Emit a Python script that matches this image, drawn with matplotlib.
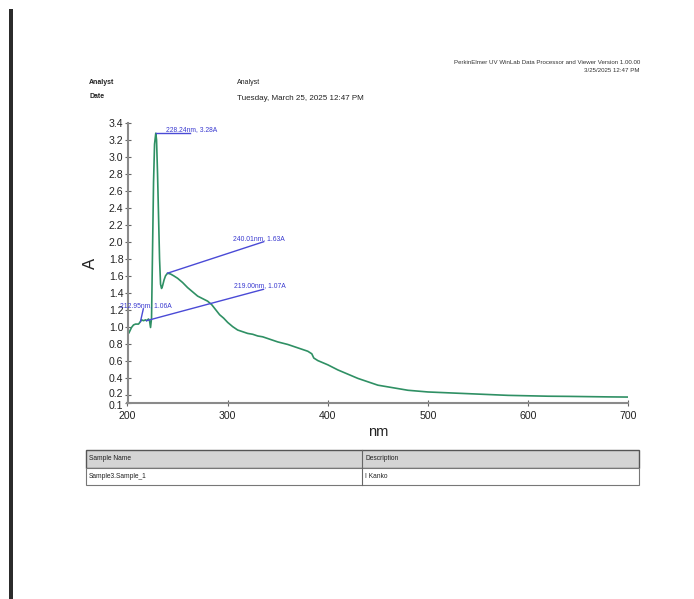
import matplotlib
matplotlib.use("Agg")
import matplotlib.pyplot as plt
from matplotlib.patches import Rectangle
from matplotlib.lines import Line2D
from matplotlib.transforms import ScaledTranslation

plt.rcParams['font.family'] = ['Liberation Sans', 'DejaVu Sans']

# ---- data ----
wavelength_nm = [200, 201, 202, 204, 206, 208, 211, 212.95, 214, 216, 218, 219, 221, 222, 223,
                 224, 225, 226, 227, 228.24, 229, 230, 231, 232, 233, 234, 235, 236.5, 238, 240.01,
                 243, 246, 250, 255, 260, 265, 270, 275, 280, 284, 288, 292, 296, 300, 305, 310,
                 315, 320, 325, 330, 335, 340, 350, 360, 370, 380, 384, 386, 390, 400, 410, 420,
                 430, 440, 450, 460, 470, 480, 500, 520, 540, 560, 580, 600, 620, 640, 660, 680, 700]
absorbance = [1.03, 0.92, 0.94, 0.99, 1.02, 1.03, 1.03, 1.06, 1.08, 1.07, 1.08, 1.07, 1.09, 1.07, 0.99,
              1.10, 1.90, 2.70, 3.15, 3.28, 3.20, 2.80, 2.30, 1.80, 1.50, 1.45, 1.48, 1.55, 1.60, 1.63,
              1.62, 1.60, 1.57, 1.52, 1.46, 1.41, 1.36, 1.33, 1.30, 1.26, 1.20, 1.14, 1.10, 1.05, 1.00, 0.96,
              0.94, 0.92, 0.91, 0.89, 0.88, 0.86, 0.82, 0.79, 0.75, 0.71, 0.68, 0.63, 0.60, 0.55, 0.49, 0.44,
              0.39, 0.35, 0.31, 0.29, 0.27, 0.25, 0.23, 0.22, 0.21, 0.20, 0.19, 0.185, 0.18, 0.178, 0.175, 0.172, 0.17]

peak_labels = ["228.24nm, 3.28A", "240.01nm, 1.63A", "219.00nm, 1.07A", "212.95nm, 1.06A"]
peak_x = [228.24, 240.01, 219.00, 212.95]
peak_y = [3.28, 1.63, 1.07, 1.06]
label_x = [238.5, 305.5, 306.5, 192.5]
label_y = [3.28, 2.00, 1.44, 1.21]
line_end_x = [262.5, 335.8, 335.8, 215.8]
line_end_y = [3.28, 2.00, 1.44, 1.21]

x_ticks = [200, 300, 400, 500, 600, 700]
y_ticks = [0.1, 0.2, 0.4, 0.6, 0.8, 1.0, 1.2, 1.4, 1.6, 1.8, 2.0, 2.2, 2.4, 2.6, 2.8, 3.0, 3.2, 3.4]

W, H = 694, 599
fig = plt.figure(figsize=(W / 100, H / 100), dpi=100)
fig.patch.set_facecolor('white')

def fx(px):
    return px / W

def fy(py):
    return 1 - py / H

# left dark bar
fig.add_artist(Rectangle((fx(9), 0), fx(3.5), fy(9), transform=fig.transFigure,
                         facecolor='#2b2b2b', edgecolor='none'))

# header texts
hdr = dict(fontsize=5.0, color='#222222')
fig.text(fx(640), fy(63), "PerkinElmer UV WinLab Data Processor and Viewer Version 1.00.00",
         ha='right', va='center', fontsize=4.4, color='#333333')
fig.text(fx(640), fy(70), "3/25/2025 12:47 PM", ha='right', va='center', fontsize=4.4, color='#333333')
fig.text(fx(89), fy(83), "Analyst", ha='left', va='center', fontweight='bold', **hdr)
fig.text(fx(89), fy(97), "Date", ha='left', va='center', fontweight='bold', **hdr)
fig.text(fx(237), fy(83), "Analyst", ha='left', va='center', **hdr)
fig.text(fx(237), fy(98), "Tuesday, March 25, 2025 12:47 PM", ha='left', va='center',
         fontsize=5.8, color='#222222')

# axes
ax_left, ax_right = 127.5, 628.3
ax_top, ax_bottom = 123, 403
ax = fig.add_axes([fx(ax_left), fy(ax_bottom), (ax_right - ax_left) / W, (ax_bottom - ax_top) / H])
ax.plot(wavelength_nm, absorbance, color='#2f9064', lw=1.2)
ax.set_xlim(200, 700)
ax.set_ylim(0.1, 3.4)
ax.set_xticks(x_ticks)
ax.set_yticks(y_ticks)
ax.set_xticklabels([str(t) for t in x_ticks])
ax.set_yticklabels([f"{t:.1f}" for t in y_ticks])
for s in ['top', 'right']:
    ax.spines[s].set_visible(False)
for s in ['left', 'bottom']:
    ax.spines[s].set_color('#8a8a8a')
    ax.spines[s].set_linewidth(1.5)
ax.tick_params(axis='both', direction='inout', length=4, width=0.8, color='#666666',
               labelsize=7.6, labelcolor='#222222')
ax.tick_params(axis='y', pad=1)
ax.tick_params(axis='x', pad=4)
ax.set_xlabel("nm", fontsize=10.5, color='#222222', labelpad=3)
ax.set_ylabel("A", fontsize=12, color='#222222', labelpad=8)
ax.patch.set_alpha(0)

# nudge the two lowest y labels apart
ylabs = ax.get_yticklabels()
ylabs[0].set_transform(ylabs[0].get_transform() + ScaledTranslation(0, -2 / 100, fig.dpi_scale_trans))
ylabs[1].set_transform(ylabs[1].get_transform() + ScaledTranslation(0, 1.5 / 100, fig.dpi_scale_trans))

ann_color = '#4a4ad6'
for lab, px_, py_, lx, ly, ex, ey in zip(peak_labels, peak_x, peak_y, label_x, label_y,
                                         line_end_x, line_end_y):
    ax.plot([px_, ex], [py_, ey], color=ann_color, lw=1.0, clip_on=False)
    ax.text(lx, ly, lab, fontsize=4.9, color='#3a3ad0', ha='left', va='bottom', clip_on=False)

# table
tl, tr = 86, 639
r0, r1, r2 = 450, 468, 485
colx = 362
fig.add_artist(Rectangle((fx(tl), fy(r1)), fx(tr - tl), (r1 - r0) / H, transform=fig.transFigure,
                         facecolor='#d4d4d4', edgecolor='#555555', lw=1.0))
fig.add_artist(Rectangle((fx(tl), fy(r2)), fx(tr - tl), (r2 - r1) / H, transform=fig.transFigure,
                         facecolor='white', edgecolor='#777777', lw=0.8))
fig.add_artist(Line2D([fx(colx), fx(colx)], [fy(r0), fy(r2)], transform=fig.transFigure,
                      color='#666666', lw=0.8))
tbl = dict(fontsize=4.8, color='#222222', va='center', ha='left')
fig.text(fx(89), fy((r0 + r1) / 2), "Sample Name", **tbl)
fig.text(fx(365), fy((r0 + r1) / 2), "Description", **tbl)
fig.text(fx(89), fy((r1 + r2) / 2), "Sample3.Sample_1", **tbl)
fig.text(fx(365), fy((r1 + r2) / 2), "I Kanko", **tbl)

fig.savefig("out.png", dpi=100, facecolor='white')
